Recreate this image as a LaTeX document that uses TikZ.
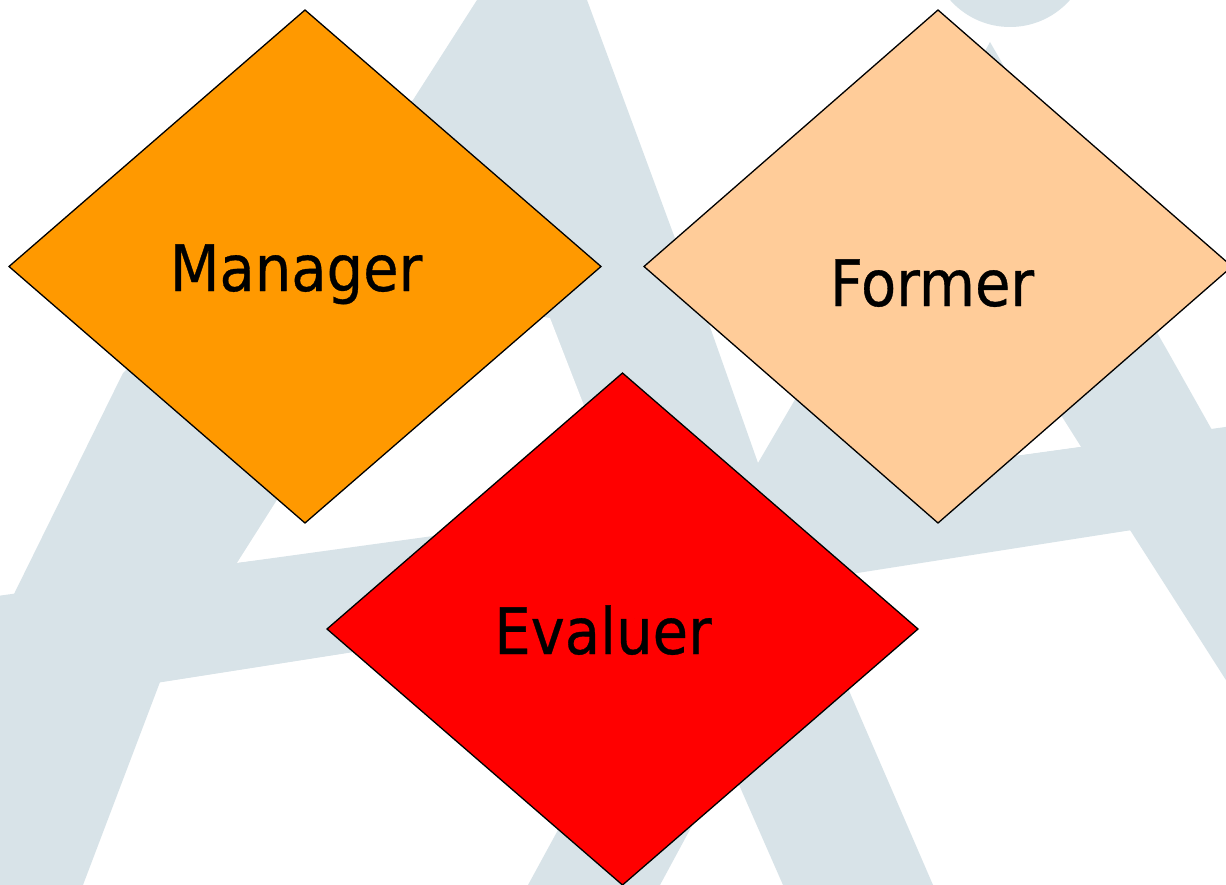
\documentclass[tikz,border=0pt]{standalone}
\usepackage{fontspec}
\setmainfont{DejaVu Sans}[FakeStretch=0.9,FakeBold=0.5]
\usetikzlibrary{shapes.geometric}
\definecolor{wm}{RGB}{216,227,232}
\definecolor{orng}{RGB}{255,153,0}
\definecolor{peach}{RGB}{255,204,153}
\definecolor{redd}{RGB}{255,0,0}
\tikzset{
  wmfill/.style={fill=wm, draw=none},
  holefill/.style={fill=white, draw=none},
  rhomb/.style={diamond, draw=black, line width=1.3pt, inner sep=0pt, outer sep=0pt},
  lbl/.style={anchor=base, inner sep=0pt, font=\fontsize{64}{64}\selectfont}
}
\begin{document}
\begin{tikzpicture}[x=1pt,y=-1pt]
\useasboundingbox (0,0) rectangle (1226,885);
\begin{scope}
\clip (0,0) rectangle (1226,885);
\fill[white] (0,0) rectangle (1226,885);
% first figure (left A)
\fill[wmfill] (-130,885) -- (15,592) -- (123,373) -- (413,100) -- (477,0) -- (490,-30) -- (575,-30) -- (587,0) -- (673,233) -- (710,327) -- (758,463) -- (850,693) -- (933,885) -- (783,885) -- (740,787) -- (665,603) -- (160,682) -- (83,885) -- cycle;
\fill[holefill] (237,563) -- (277,500) -- (430,300) -- (550,318) -- (583,403) -- (627,515) -- cycle;
% second figure (right A)
\fill[wmfill] (528,885) -- (758,463) -- (793,403) -- (990,42) -- (1167,350) -- (1212,430) -- (1300,590) -- (1400,885) -- (1357,885) -- (1130,530) -- (828,574) -- (660,885) -- cycle;
\fill[holefill] (880,475) -- (1081,447) -- (983,292) -- cycle;
\fill[wmfill] (1010,-53) circle[radius=80pt];
% arms
\fill[wmfill] (-10,597) -- (1240,425) -- (1240,513) -- (-10,709) -- cycle;
\end{scope}
\node[rhomb, fill=orng, minimum width=592pt, minimum height=513pt] (mgr) at (305,266.5) {};
\node[rhomb, fill=peach, minimum width=588pt, minimum height=513pt] (frm) at (938,266.5) {};
\node[rhomb, fill=redd, minimum width=591pt, minimum height=512pt] (evl) at (622.5,629) {};
\node[lbl] (tm) at (296,291) {Manager};
\node[lbl] (tf) at (932,306) {Former};
\node[lbl] (te) at (603,654) {Evaluer};
\end{tikzpicture}
\end{document}
